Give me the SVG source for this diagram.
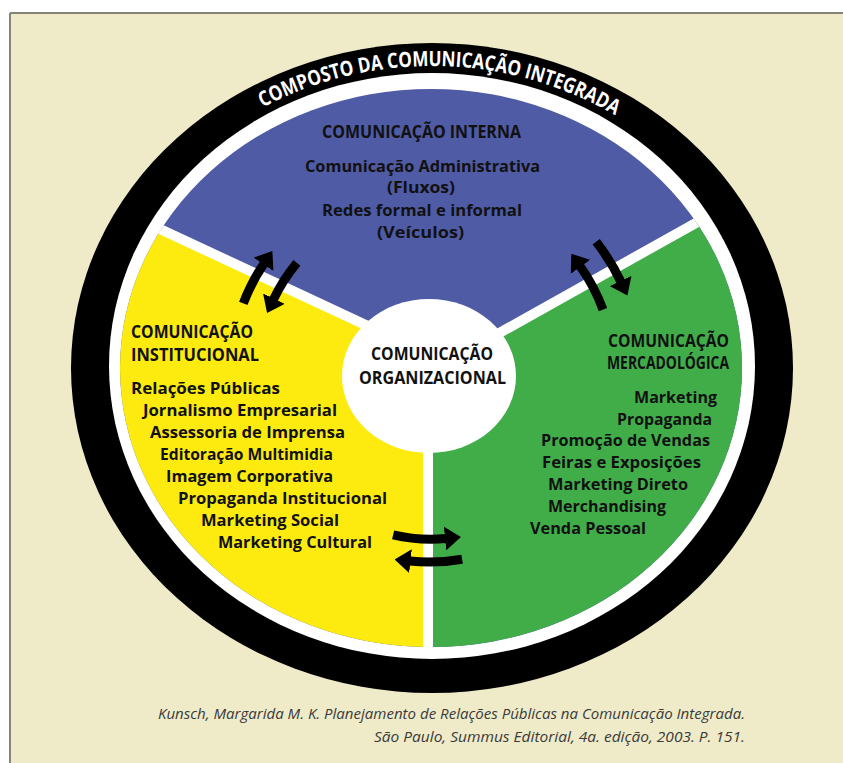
<svg xmlns="http://www.w3.org/2000/svg" width="843" height="763" viewBox="0 0 843 763">
  <defs>
    <style>
      .hd { font-family: "Open Sans", "Liberation Sans", sans-serif; font-weight: 700; font-size: 17px; fill: #111; }
      .it { font-family: "Open Sans", "Liberation Sans", sans-serif; font-weight: 700; font-size: 16px; fill: #111; }
      .ring { font-family: "Open Sans", "Liberation Sans", sans-serif; font-weight: 700; font-size: 21px; fill: #fff; }
      .cap { font-family: "Open Sans", "Liberation Sans", sans-serif; font-style: italic; font-size: 15px; fill: #3a3a3a; }
      .arr { fill: none; stroke: #000; stroke-width: 9; marker-end: url(#head); }
      .div { stroke: #fff; stroke-width: 10; fill: none; }
    </style>
    <marker id="head" markerUnits="userSpaceOnUse" viewBox="0 0 16 24" markerWidth="16" markerHeight="24" refX="1" refY="12" orient="auto">
      <path d="M0,0 L16,12 L0,24 z" fill="#000"/>
    </marker>
    <clipPath id="disc">
      <ellipse cx="431" cy="368" rx="311" ry="279"/>
    </clipPath>
    <path id="ringPath" d="M98,368 A334,302 0 0 1 766,368"/>
  </defs>

  <!-- page and frame -->
  <rect x="0" y="0" width="843" height="763" fill="#fff"/>
  <rect x="10" y="13" width="833" height="750" fill="#EFEBC9"/>
  <line x1="10" y1="13" x2="843" y2="13" stroke="#858577" stroke-width="2"/>
  <line x1="10" y1="13" x2="10" y2="763" stroke="#858577" stroke-width="2"/>

  <!-- outer ring -->
  <g id="ring">
    <ellipse cx="432" cy="368" rx="361" ry="325" fill="#000"/>
    <ellipse cx="432" cy="366" rx="323" ry="293" fill="#fff"/>
    <text class="ring"><textPath href="#ringPath" startOffset="50.8%" text-anchor="middle" textLength="368" lengthAdjust="spacingAndGlyphs">COMPOSTO DA COMUNICAÇÃO INTEGRADA</textPath></text>
  </g>

  <!-- sectors -->
  <g clip-path="url(#disc)">
    <g id="interna">
      <rect x="100" y="80" width="680" height="580" fill="#4F5BA5"/>
    </g>
    <g id="institucional">
      <polygon points="100,201 430,355 428,360 428,660 100,660" fill="#FDEB10"/>
    </g>
    <g id="mercadologica">
      <polygon points="428,373 760,187 760,660 428,660" fill="#41AD49"/>
    </g>
    <line class="div" x1="100" y1="201" x2="430" y2="355"/>
    <line class="div" x1="428" y1="373" x2="760" y2="187"/>
    <line class="div" x1="428" y1="360" x2="428" y2="660"/>
  </g>

  <!-- sector texts -->
  <g id="interna-text">
    <text class="hd" x="322" y="138" textLength="199" lengthAdjust="spacingAndGlyphs">COMUNICAÇÃO INTERNA</text>
    <text class="it" x="305" y="172" textLength="235" lengthAdjust="spacingAndGlyphs">Comunicação Administrativa</text>
    <text class="it" x="387" y="193" textLength="68" lengthAdjust="spacingAndGlyphs">(Fluxos)</text>
    <text class="it" x="322" y="216" textLength="200" lengthAdjust="spacingAndGlyphs">Redes formal e informal</text>
    <text class="it" x="377" y="238" textLength="87" lengthAdjust="spacingAndGlyphs">(Veículos)</text>
  </g>

  <g id="institucional-text">
    <text class="hd" x="131" y="338" textLength="122" lengthAdjust="spacingAndGlyphs">COMUNICAÇÃO</text>
    <text class="hd" x="131" y="361" textLength="128" lengthAdjust="spacingAndGlyphs">INSTITUCIONAL</text>
    <text class="it" x="131" y="394" textLength="149" lengthAdjust="spacingAndGlyphs">Relações Públicas</text>
    <text class="it" x="143" y="416" textLength="194" lengthAdjust="spacingAndGlyphs">Jornalismo Empresarial</text>
    <text class="it" x="150" y="438" textLength="195" lengthAdjust="spacingAndGlyphs">Assessoria de Imprensa</text>
    <text class="it" x="160" y="460" textLength="173" lengthAdjust="spacingAndGlyphs">Editoração Multimidia</text>
    <text class="it" x="166" y="482" textLength="167" lengthAdjust="spacingAndGlyphs">Imagem Corporativa</text>
    <text class="it" x="178" y="504" textLength="209" lengthAdjust="spacingAndGlyphs">Propaganda Institucional</text>
    <text class="it" x="201" y="526" textLength="138" lengthAdjust="spacingAndGlyphs">Marketing Social</text>
    <text class="it" x="218" y="548" textLength="154" lengthAdjust="spacingAndGlyphs">Marketing Cultural</text>
  </g>

  <g id="mercadologica-text">
    <text class="hd" x="608" y="347" textLength="121" lengthAdjust="spacingAndGlyphs">COMUNICAÇÃO</text>
    <text class="hd" x="607" y="369" textLength="122" lengthAdjust="spacingAndGlyphs">MERCADOLÓGICA</text>
    <text class="it" x="634" y="403" textLength="83" lengthAdjust="spacingAndGlyphs">Marketing</text>
    <text class="it" x="617" y="425" textLength="95" lengthAdjust="spacingAndGlyphs">Propaganda</text>
    <text class="it" x="541" y="446" textLength="169" lengthAdjust="spacingAndGlyphs">Promoção de Vendas</text>
    <text class="it" x="542" y="468" textLength="159" lengthAdjust="spacingAndGlyphs">Feiras e Exposições</text>
    <text class="it" x="548" y="490" textLength="140" lengthAdjust="spacingAndGlyphs">Marketing Direto</text>
    <text class="it" x="548" y="512" textLength="118" lengthAdjust="spacingAndGlyphs">Merchandising</text>
    <text class="it" x="530" y="534" textLength="116" lengthAdjust="spacingAndGlyphs">Venda Pessoal</text>
  </g>

  <!-- centre -->
  <g id="organizacional">
    <ellipse cx="429" cy="376" rx="87" ry="77" fill="#fff"/>
    <text class="hd" x="371" y="360" textLength="122" lengthAdjust="spacingAndGlyphs">COMUNICAÇÃO</text>
    <text class="hd" x="359" y="384" textLength="147" lengthAdjust="spacingAndGlyphs">ORGANIZACIONAL</text>
  </g>

  <!-- exchange arrows between the sectors -->
  <g id="connectors">
    <path class="arr" d="M243.3,303.3 A200,200 0 0 1 264,263.5"/>
    <path class="arr" d="M296.9,262.9 A174,174 0 0 0 273.5,299.5"/>
    <path class="arr" d="M596.2,241.8 A213,213 0 0 1 621,282"/>
    <path class="arr" d="M603.0,309.6 A185,185 0 0 0 580,266"/>
    <path class="arr" d="M393.1,534.8 A164,164 0 0 0 446,538.4"/>
    <path class="arr" d="M462.1,559.2 A187,187 0 0 1 409.5,561"/>
  </g>

  <!-- source -->
  <g id="source">
    <text class="cap" x="158" y="719" textLength="587" lengthAdjust="spacingAndGlyphs">Kunsch, Margarida M. K. Planejamento de Relações Públicas na Comunicação Integrada.</text>
    <text class="cap" x="374" y="742" textLength="371" lengthAdjust="spacingAndGlyphs">São Paulo, Summus Editorial, 4a. edição, 2003. P. 151.</text>
  </g>
</svg>
